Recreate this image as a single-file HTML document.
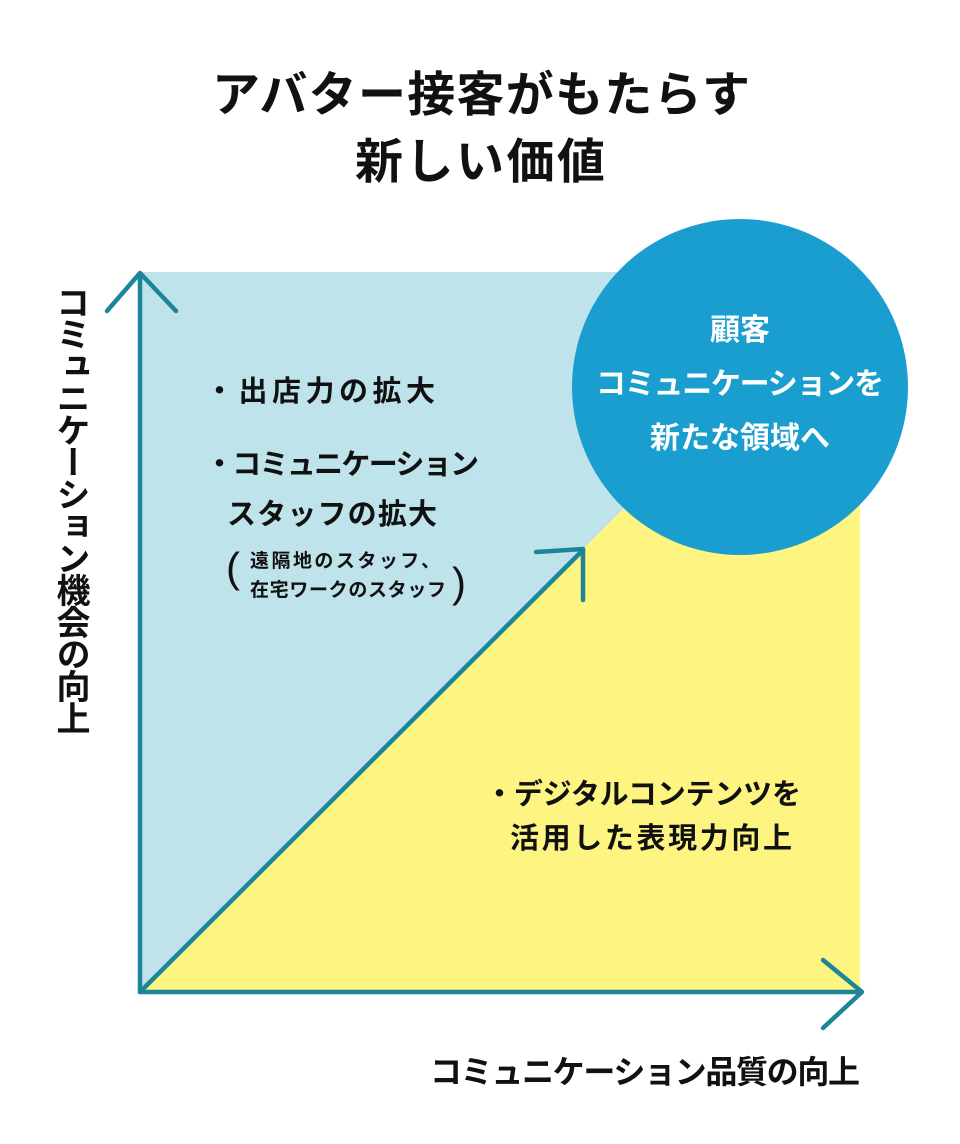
<!DOCTYPE html>
<html><head><meta charset="utf-8"><style>
body{margin:0;width:960px;height:1144px;background:#fff;overflow:hidden}
svg{display:block}
text{font-family:"Liberation Sans","Noto Sans CJK JP",sans-serif;font-weight:bold;fill:#111}
</style></head><body>
<svg width="960" height="1144" viewBox="0 0 960 1144">
<rect x="140" y="272" width="720" height="720" fill="#bee3ea"/>
<polygon points="140,992 860,272 860,992" fill="#fdf482"/>
<g stroke="#1c8698" stroke-width="4.5" fill="none" stroke-linecap="round" stroke-linejoin="round">
<line x1="140" y1="274" x2="140" y2="992"/>
<polyline points="107,311 140,273 176,311"/>
<line x1="140" y1="992" x2="860" y2="992"/>
<polyline points="823,960 862,992 823,1028"/>
<line x1="142" y1="990" x2="583" y2="550"/>
<polyline points="536,552 583,549 583,600"/>
</g>
<circle cx="740" cy="387" r="168" fill="#1a9ecf"/>
<g text-anchor="middle" font-size="30">
<text x="740" y="340" style="fill:#fff">顧客</text>
<text x="740" y="394" style="fill:#fff" textLength="288">コミュニケーションを</text>
<text x="740" y="448" style="fill:#fff">新たな領域へ</text>
</g>
<text x="212" y="111" font-size="48" textLength="538">アバター接客がもたらす</text>
<text x="355" y="178" font-size="48" textLength="250">新しい価値</text>
<text x="205" y="401" font-size="29" textLength="230">・出店力の拡大</text>
<text x="205" y="474" font-size="29" textLength="274">・コミュニケーション</text>
<text x="227" y="524" font-size="29" textLength="210">スタッフの拡大</text>
<text x="226" y="582" font-size="42" style="font-weight:normal">(</text>
<text x="250" y="567" font-size="19" textLength="190">遠隔地のスタッフ、</text>
<text x="250" y="596" font-size="19" textLength="196">在宅ワークのスタッフ</text>
<text x="452" y="597" font-size="42" style="font-weight:normal">)</text>
<text x="485" y="804" font-size="29" textLength="316">・デジタルコンテンツを</text>
<text x="510" y="848" font-size="29" textLength="282">活用した表現力向上</text>
<text x="430" y="1083" font-size="32" textLength="430">コミュニケーション品質の向上</text>
<text x="70" y="285" font-size="34" style="writing-mode:vertical-rl" textLength="450">コミュニケーション機会の向上</text>
</svg>
</body></html>
